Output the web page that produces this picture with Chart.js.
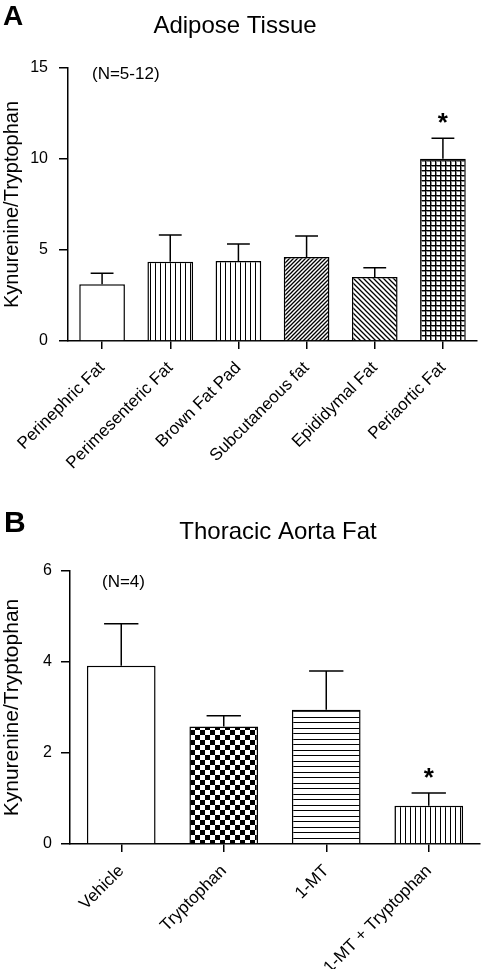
<!DOCTYPE html>
<html>
<head>
<meta charset="utf-8">
<script src="https://cdn.jsdelivr.net/npm/chart.js@4/dist/chart.umd.min.js"></script>
<style>
html, body { margin: 0; padding: 0; background: #fff; }
#wrapA { position: absolute; left: 0; top: 0; }
#wrapB { position: absolute; left: 0; top: 480px; }
</style>
</head>
<body>
<div id="wrapA"><canvas id="chartA" width="482" height="480"></canvas></div>
<div id="wrapB"><canvas id="chartB" width="482" height="489"></canvas></div>
<script>
// panel A - adipose tissue
const adiposeLabels = ["Perinephric Fat", "Perimesenteric Fat", "Brown Fat Pad", "Subcutaneous fat", "Epididymal Fat", "Periaortic Fat"];
const adiposeMeans = [3.12, 4.36, 4.4, 4.62, 3.52, 10.02];
const adiposeErrors = [0.6, 1.46, 0.93, 1.15, 0.51, 1.12];
const adiposeFills = ["none", "vlines", "vlines", "diagUp", "diagDown", "grid"];
const adiposeStars = [5];
const adiposeTicks = [0, 5, 10, 15];

// panel B - thoracic aorta fat
const aortaLabels = ["Vehicle", "Tryptophan", "1-MT", "1-MT + Tryptophan"];
const aortaMeans = [3.92, 2.58, 2.95, 0.84];
const aortaErrors = [0.92, 0.24, 0.85, 0.28];
const aortaFills = ["none", "checker", "hlines", "vlines"];
const aortaStars = [3];
const aortaTicks = [0, 2, 4, 6];

const FONT = "'Liberation Sans', Arial, sans-serif";
Chart.defaults.font.family = FONT;
Chart.defaults.color = "#000";

function makePattern(kind) {
    if (kind === "none") return "#fff";
    const c = document.createElement("canvas");
    let w = 5, h = 5;
    if (kind === "hlines") { w = 5; h = 11; }
    if (kind === "checker") { w = 10; h = 10; }
    if (kind === "diagUp") { w = 4; h = 4; }
    c.width = w; c.height = h;
    const g = c.getContext("2d");
    g.fillStyle = "#fff";
    g.fillRect(0, 0, w, h);
    g.fillStyle = "#000";
    g.strokeStyle = "#000";
    if (kind === "vlines") {
        g.fillRect(0, 0, 1, h);
    } else if (kind === "hlines") {
        g.fillRect(0, 0, w, 1);
        g.fillRect(0, 6, w, 1);
    } else if (kind === "grid") {
        g.fillRect(0, 0, w, 1);
        g.fillRect(0, 0, 1, h);
        g.fillStyle = "#888";
        g.fillRect(1, 1, w - 1, 1);
        g.fillRect(1, 1, 1, h - 1);
    } else if (kind === "checker") {
        g.fillRect(0, 0, 5, 5);
        g.fillRect(5, 5, 5, 5);
    } else if (kind === "diagUp" || kind === "diagDown") {
        g.lineWidth = 1.3;
        g.beginPath();
        if (kind === "diagUp") {
            g.moveTo(-1, h + 1); g.lineTo(w + 1, -1);
            g.moveTo(-1, 1); g.lineTo(1, -1);
            g.moveTo(w - 1, h + 1); g.lineTo(w + 1, h - 1);
        } else {
            g.moveTo(-1, -1); g.lineTo(w + 1, h + 1);
            g.moveTo(-1, h - 1); g.lineTo(1, h + 1);
            g.moveTo(w - 1, -1); g.lineTo(w + 1, 1);
        }
        g.stroke();
    }
    return g.createPattern(c, "repeat");
}

const errorBars = {
    id: "errorBars",
    afterDatasetsDraw(chart, args, opts) {
        const ctx = chart.ctx;
        const meta = chart.getDatasetMeta(0);
        const y = chart.scales.y;
        const values = chart.data.datasets[0].data;
        ctx.save();
        ctx.strokeStyle = "#000";
        ctx.lineWidth = 1.5;
        meta.data.forEach((bar, i) => {
            const top = y.getPixelForValue(values[i] + opts.errors[i]);
            const half = bar.width / 4;
            ctx.beginPath();
            ctx.moveTo(bar.x, bar.y);
            ctx.lineTo(bar.x, top);
            ctx.moveTo(bar.x - half, top);
            ctx.lineTo(bar.x + half, top);
            ctx.stroke();
            if (opts.stars.includes(i)) {
                ctx.fillStyle = "#000";
                ctx.font = "bold 26px " + FONT;
                ctx.textAlign = "center";
                ctx.textBaseline = "alphabetic";
                ctx.fillText("*", bar.x, top - 7);
            }
        });
        ctx.restore();
    }
};

const panelText = {
    id: "panelText",
    afterDraw(chart, args, opts) {
        const ctx = chart.ctx;
        ctx.save();
        ctx.fillStyle = "#000";
        ctx.textBaseline = "alphabetic";
        ctx.textAlign = "left";
        ctx.font = "bold " + opts.letterSize + "px " + FONT;
        ctx.fillText(opts.letter, opts.letterX, opts.letterY);
        ctx.textAlign = "center";
        ctx.font = "24px " + FONT;
        ctx.fillText(opts.title, opts.titleX, opts.titleY);
        ctx.textAlign = "left";
        ctx.font = "17px " + FONT;
        ctx.fillText(opts.note, opts.noteX, opts.noteY);
        ctx.restore();
    }
};

function makeChart(id, cfg) {
    const ticks = cfg.ticks;
    return new Chart(document.getElementById(id).getContext("2d"), {
        type: "bar",
        data: {
            labels: cfg.labels,
            datasets: [{
                data: cfg.means,
                backgroundColor: cfg.fills.map(makePattern),
                borderColor: "#000",
                borderWidth: 1.5,
                barPercentage: 0.67,
                categoryPercentage: 1
            }]
        },
        options: {
            responsive: false,
            animation: false,
            events: [],
            layout: { padding: { top: cfg.top, right: cfg.right, left: 0, bottom: 0 } },
            plugins: {
                legend: { display: false },
                tooltip: { enabled: false },
                errorBars: { errors: cfg.errors, stars: cfg.stars },
                panelText: cfg.text
            },
            scales: {
                x: {
                    grid: { offset: false, drawOnChartArea: false, tickLength: 8, color: "#000", lineWidth: 1.5 },
                    border: { color: "#000", width: 1.5 },
                    ticks: { minRotation: 45, maxRotation: 45, autoSkip: false, padding: 9, font: { size: 17 } },
                    afterFit(s) { s.height = cfg.xHeight; }
                },
                y: {
                    min: ticks[0],
                    max: ticks[ticks.length - 1],
                    afterBuildTicks(s) { s.ticks = ticks.map(v => ({ value: v })); },
                    grid: { drawOnChartArea: false, tickLength: 9, color: "#000", lineWidth: 1.5 },
                    border: { color: "#000", width: 1.5 },
                    ticks: { padding: cfg.tickPad, font: { size: 16 } },
                    title: { display: true, text: "Kynurenine/Tryptophan", font: { size: cfg.titleSize }, padding: 0 },
                    afterFit(s) { s.width = cfg.yWidth; }
                }
            }
        },
        plugins: [errorBars, panelText]
    });
}

makeChart("chartA", {
    labels: adiposeLabels, means: adiposeMeans, errors: adiposeErrors, fills: adiposeFills,
    stars: adiposeStars, ticks: adiposeTicks,
    top: 68, right: 5, xHeight: 139, yWidth: 68, tickPad: 11, titleSize: 20,
    text: { letter: "A", letterSize: 28, letterX: 3, letterY: 25,
            title: "Adipose Tissue", titleX: 235, titleY: 33,
            note: "(N=5-12)", noteX: 92, noteY: 79 }
});

makeChart("chartB", {
    labels: aortaLabels, means: aortaMeans, errors: aortaErrors, fills: aortaFills,
    stars: aortaStars, ticks: aortaTicks,
    top: 91, right: 2, xHeight: 125, yWidth: 70, tickPad: 9, titleSize: 21,
    text: { letter: "B", letterSize: 30, letterX: 4, letterY: 52,
            title: "Thoracic Aorta Fat", titleX: 278, titleY: 59,
            note: "(N=4)", noteX: 102, noteY: 107 }
});
</script>
</body>
</html>
